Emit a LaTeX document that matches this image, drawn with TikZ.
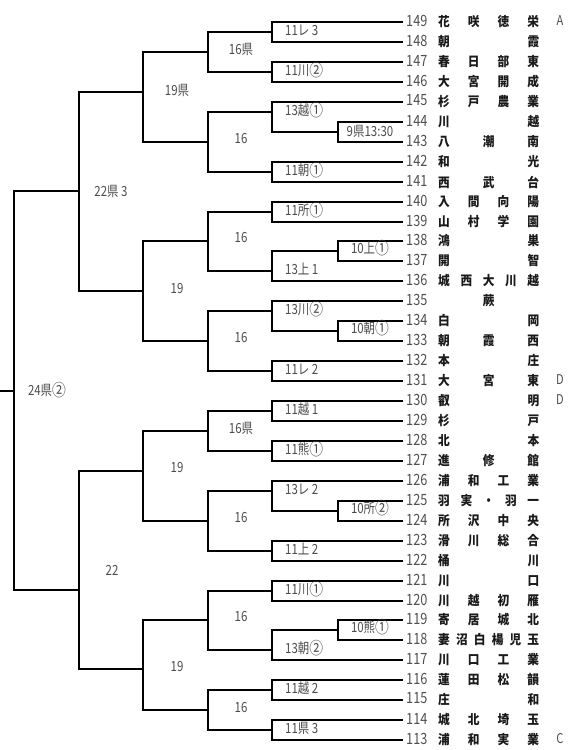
\documentclass[tikz,border=0pt]{standalone}
\usepackage{fontspec}
\newfontfamily\jpn[FakeStretch=0.82]{Noto Sans CJK JP}
\newfontfamily\jpname[FakeStretch=0.9]{Noto Sans CJK JP}
\definecolor{numgray}{HTML}{505050}
\definecolor{labgray}{HTML}{4D4D4D}
\definecolor{namecol}{HTML}{1A1A1A}
\tikzset{
  br/.style={line width=2.6pt, line join=miter, draw=black},
  num/.style={font=\jpn\fontsize{15.5}{16}\selectfont, text=numgray, inner sep=0pt, anchor=west},
  lab/.style={font=\jpn\fontsize{14}{15}\selectfont, text=labgray, inner sep=0pt},
  mk/.style={font=\jpn\fontsize{13.5}{15}\selectfont, text=numgray, inner sep=0pt},
  nm/.style={font=\jpname\bfseries\fontsize{13}{14}\selectfont, text=namecol, inner sep=0pt, anchor=west}
}
\newcommand\gp{\kern2.5pt}
\newcommand\ci[1]{\raisebox{-0.5pt}{\scalebox{1.2}{#1}}}
\newcommand\mkteam[3]{%
  \coordinate (e#1) at (403,#2);
  \node[num] (n#1) at (406,{#2-1.5}) {#1};
  \node[nm] (s#1) at (438,#2) {\hbox to 101pt{#3}};
}
\begin{document}
\begin{tikzpicture}[x=1pt,y=-1pt]
\useasboundingbox (0,0) rectangle (580,750);
\fill[white] (0,0) rectangle (580,750);
% teams
\mkteam{149}{22}{花\hfill 咲\hfill 徳\hfill 栄}
\mkteam{148}{42}{朝\hfill 霞}
\mkteam{147}{62}{春\hfill 日\hfill 部\hfill 東}
\mkteam{146}{82}{大\hfill 宮\hfill 開\hfill 成}
\mkteam{145}{102}{杉\hfill 戸\hfill 農\hfill 業}
\mkteam{144}{122}{川\hfill 越}
\mkteam{143}{142}{八\hfill 潮\hfill 南}
\mkteam{142}{162}{和\hfill 光}
\mkteam{141}{182}{西\hfill 武\hfill 台}
\mkteam{140}{202}{入\hfill 間\hfill 向\hfill 陽}
\mkteam{139}{222}{山\hfill 村\hfill 学\hfill 園}
\mkteam{138}{241}{鴻\hfill 巣}
\mkteam{137}{261}{開\hfill 智}
\mkteam{136}{281}{城\hfill 西\hfill 大\hfill 川\hfill 越}
\mkteam{135}{301}{\hfill 蕨\hfill}
\mkteam{134}{321}{白\hfill 岡}
\mkteam{133}{341}{朝\hfill 霞\hfill 西}
\mkteam{132}{361}{本\hfill 庄}
\mkteam{131}{381}{大\hfill 宮\hfill 東}
\mkteam{130}{401}{叡\hfill 明}
\mkteam{129}{421}{杉\hfill 戸}
\mkteam{128}{441}{北\hfill 本}
\mkteam{127}{461}{進\hfill 修\hfill 館}
\mkteam{126}{481}{浦\hfill 和\hfill 工\hfill 業}
\mkteam{125}{501}{羽\hfill 実\hfill ・\hfill 羽\hfill 一}
\mkteam{124}{521}{所\hfill 沢\hfill 中\hfill 央}
\mkteam{123}{541}{滑\hfill 川\hfill 総\hfill 合}
\mkteam{122}{561}{桶\hfill 川}
\mkteam{121}{581}{川\hfill 口}
\mkteam{120}{601}{川\hfill 越\hfill 初\hfill 雁}
\mkteam{119}{620}{寄\hfill 居\hfill 城\hfill 北}
\mkteam{118}{640}{妻\hfill 沼\hfill 白\hfill 楊\hfill 児\hfill 玉}
\mkteam{117}{660}{川\hfill 口\hfill 工\hfill 業}
\mkteam{116}{680}{蓮\hfill 田\hfill 松\hfill 韻}
\mkteam{115}{700}{庄\hfill 和}
\mkteam{114}{720}{城\hfill 北\hfill 埼\hfill 玉}
\mkteam{113}{740}{浦\hfill 和\hfill 実\hfill 業}
% side marks
\node[mk] (mA) at (560,21) {A};
\node[mk] (mD1) at (560,380) {D};
\node[mk] (mD2) at (560,400) {D};
\node[mk] (mC) at (560,739) {C};
% match points
\coordinate (j9) at (338,132);
\coordinate (j10u) at (338,251);
\coordinate (j10a) at (338,331);
\coordinate (j10s) at (338,511);
\coordinate (j10k) at (338,630);
\coordinate (a1) at (272,32);
\coordinate (a2) at (272,72);
\coordinate (a3) at (272,112);
\coordinate (a4) at (272,172);
\coordinate (a5) at (272,212);
\coordinate (a6) at (272,271);
\coordinate (a7) at (272,311);
\coordinate (a8) at (272,371);
\coordinate (a9) at (272,411);
\coordinate (a10) at (272,451);
\coordinate (a11) at (272,491);
\coordinate (a12) at (272,551);
\coordinate (a13) at (272,591);
\coordinate (a14) at (272,650);
\coordinate (a15) at (272,690);
\coordinate (a16) at (272,730);
\coordinate (b1) at (208,52);
\coordinate (b2) at (208,142);
\coordinate (b3) at (208,241);
\coordinate (b4) at (208,341);
\coordinate (b5) at (208,431);
\coordinate (b6) at (208,521);
\coordinate (b7) at (208,620);
\coordinate (b8) at (208,710);
\coordinate (c1) at (143,92);
\coordinate (c2) at (143,291);
\coordinate (c3) at (143,471);
\coordinate (c4) at (143,669);
\coordinate (d1) at (79,191);
\coordinate (d2) at (79,590);
\coordinate (r) at (14,391);
\coordinate (root) at (0,391);
% brackets
\draw[br] (e144) -| (j9) |- (e143);
\draw[br] (e138) -| (j10u) |- (e137);
\draw[br] (e134) -| (j10a) |- (e133);
\draw[br] (e125) -| (j10s) |- (e124);
\draw[br] (e119) -| (j10k) |- (e118);
\draw[br] (e149) -| (a1) |- (e148);
\draw[br] (e147) -| (a2) |- (e146);
\draw[br] (e145) -| (a3) |- (j9);
\draw[br] (e142) -| (a4) |- (e141);
\draw[br] (e140) -| (a5) |- (e139);
\draw[br] (j10u) -| (a6) |- (e136);
\draw[br] (e135) -| (a7) |- (j10a);
\draw[br] (e132) -| (a8) |- (e131);
\draw[br] (e130) -| (a9) |- (e129);
\draw[br] (e128) -| (a10) |- (e127);
\draw[br] (e126) -| (a11) |- (j10s);
\draw[br] (e123) -| (a12) |- (e122);
\draw[br] (e121) -| (a13) |- (e120);
\draw[br] (j10k) -| (a14) |- (e117);
\draw[br] (e116) -| (a15) |- (e115);
\draw[br] (e114) -| (a16) |- (e113);
\draw[br] (a1) -| (b1) |- (a2);
\draw[br] (a3) -| (b2) |- (a4);
\draw[br] (a5) -| (b3) |- (a6);
\draw[br] (a7) -| (b4) |- (a8);
\draw[br] (a9) -| (b5) |- (a10);
\draw[br] (a11) -| (b6) |- (a12);
\draw[br] (a13) -| (b7) |- (a14);
\draw[br] (a15) -| (b8) |- (a16);
\draw[br] (b1) -| (c1) |- (b2);
\draw[br] (b3) -| (c2) |- (b4);
\draw[br] (b5) -| (c3) |- (b6);
\draw[br] (b7) -| (c4) |- (b8);
\draw[br] (c1) -| (d1) |- (c2);
\draw[br] (c3) -| (d2) |- (c4);
\draw[br] (d1) -| (r) |- (d2);
\draw[br] (r) -- (root);
% labels level 338
\node[lab] (lj9) at (370,131) {9県13:30};
\node[lab] (lj10u) at (370,248) {10上\ci{①}};
\node[lab] (lj10a) at (370,328) {10朝\ci{①}};
\node[lab] (lj10s) at (370,508) {10所\ci{②}};
\node[lab] (lj10k) at (370,627) {10熊\ci{①}};
% labels level 272
\node[lab,anchor=west] (la1) at (285,30) {11レ\gp 3};
\node[lab,anchor=west] (la2) at (285,70) {11川\ci{②}};
\node[lab,anchor=west] (la3) at (285,110) {13越\ci{①}};
\node[lab,anchor=west] (la4) at (285,170) {11朝\ci{①}};
\node[lab,anchor=west] (la5) at (285,210) {11所\ci{①}};
\node[lab,anchor=west] (la6) at (285,269) {13上\gp 1};
\node[lab,anchor=west] (la7) at (285,309) {13川\ci{②}};
\node[lab,anchor=west] (la8) at (285,369) {11レ\gp 2};
\node[lab,anchor=west] (la9) at (285,409) {11越\gp 1};
\node[lab,anchor=west] (la10) at (285,449) {11熊\ci{①}};
\node[lab,anchor=west] (la11) at (285,489) {13レ\gp 2};
\node[lab,anchor=west] (la12) at (285,549) {11上\gp 2};
\node[lab,anchor=west] (la13) at (285,589) {11川\ci{①}};
\node[lab,anchor=west] (la14) at (285,648) {13朝\ci{②}};
\node[lab,anchor=west] (la15) at (285,688) {11越\gp 2};
\node[lab,anchor=west] (la16) at (285,728) {11県\gp 3};
% labels level 208
\node[lab] (lb1) at (241,49) {16県};
\node[lab] (lb2) at (241,139) {16};
\node[lab] (lb3) at (241,238) {16};
\node[lab] (lb4) at (241,338) {16};
\node[lab] (lb5) at (241,428) {16県};
\node[lab] (lb6) at (241,518) {16};
\node[lab] (lb7) at (241,617) {16};
\node[lab] (lb8) at (241,707) {16};
% labels level 143
\node[lab] (lc1) at (177,90) {19県};
\node[lab] (lc2) at (177,289) {19};
\node[lab] (lc3) at (177,468) {19};
\node[lab] (lc4) at (177,667) {19};
% labels level 79 and root
\node[lab] (ld1) at (111,191) {22県\gp 3};
\node[lab] (ld2) at (112,570) {22};
\node[lab] (lr) at (47,390) {24県\ci{②}};
\end{tikzpicture}
\end{document}
